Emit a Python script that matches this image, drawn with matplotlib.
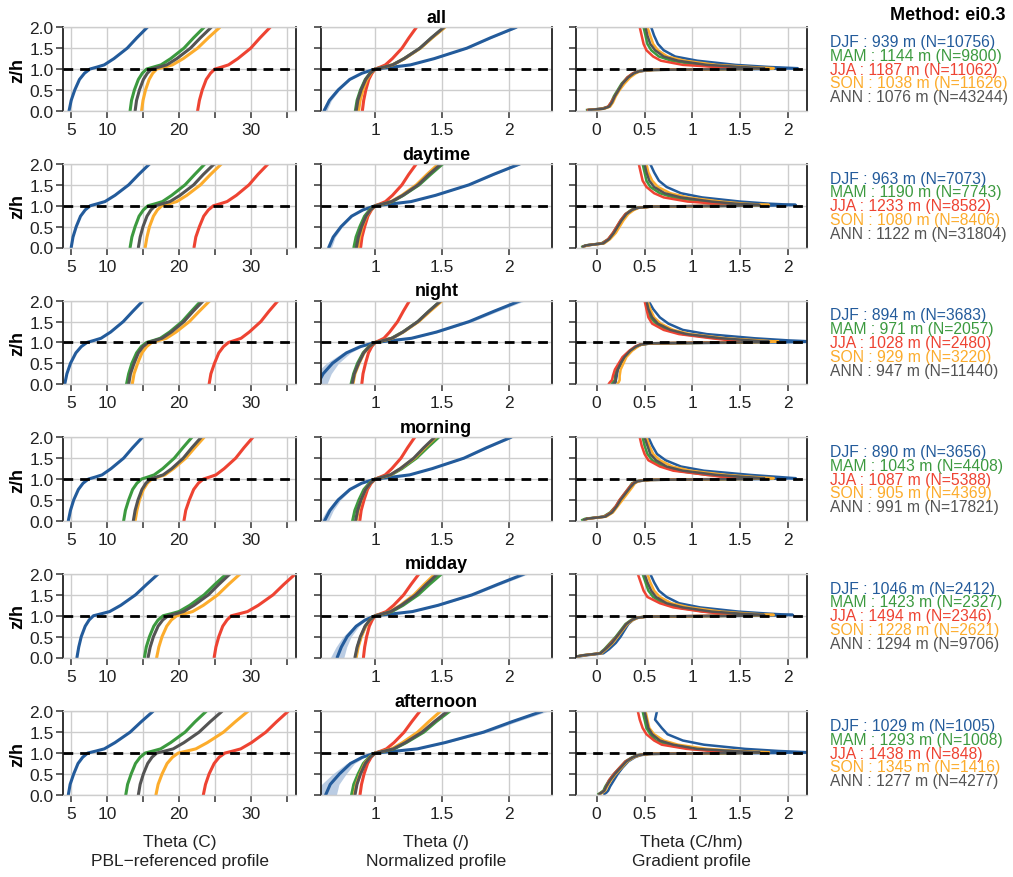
import numpy as np
import matplotlib
matplotlib.use("Agg")
import matplotlib.pyplot as plt

plt.rcParams['font.family'] = ['Liberation Sans', 'DejaVu Sans']

seasons = ['DJF', 'MAM', 'JJA', 'SON', 'ANN']
colors = ['#235b9b', '#3c9a3f', '#ee4332', '#fcac2c', '#545454']
periods = ['all', 'daytime', 'night', 'morning', 'midday', 'afternoon']

# PBL heights (m) and sample sizes, order DJF MAM JJA SON ANN
pbl_all = [939, 1144, 1187, 1038, 1076]
n_all = [10756, 9800, 11062, 11626, 43244]
pbl_day = [963, 1190, 1233, 1080, 1122]
n_day = [7073, 7743, 8582, 8406, 31804]
pbl_night = [894, 971, 1028, 929, 947]
n_night = [3683, 2057, 2480, 3220, 11440]
pbl_morning = [890, 1043, 1087, 905, 991]
n_morning = [3656, 4408, 5388, 4369, 17821]
pbl_midday = [1046, 1423, 1494, 1228, 1294]
n_midday = [2412, 2327, 2346, 2621, 9706]
pbl_afternoon = [1029, 1293, 1438, 1345, 1277]
n_afternoon = [1005, 1008, 848, 1416, 4277]

# z/h levels for the theta profiles
z = [0, 0.25, 0.5, 0.75, 0.9, 1.0, 1.05, 1.1, 1.25, 1.5, 1.75, 2.0]

# theta (C), one row per season
theta_all = [
    [4.7, 5.0, 5.5, 6.15, 6.85, 7.6, 8.65, 9.6, 10.95, 12.8, 14.15, 15.6],
    [13.2, 13.4, 13.8, 14.35, 14.9, 15.5, 16.5, 17.5, 18.85, 20.7, 22.05, 23.5],
    [22.6, 22.85, 23.25, 23.8, 24.4, 25.0, 26.0, 26.9, 28.2, 30.0, 31.3, 32.7],
    [14.8, 15.0, 15.35, 15.85, 16.35, 16.9, 18.05, 19.1, 20.6, 22.6, 24.1, 25.7],
    [13.9, 14.1, 14.5, 15.05, 15.6, 16.2, 17.3, 18.3, 19.7, 21.6, 23.0, 24.5],
]
theta_day = [
    [5.0, 5.25, 5.7, 6.3, 6.95, 7.65, 8.7, 9.7, 11.1, 13.0, 14.4, 15.9],
    [13.2, 13.45, 13.9, 14.45, 15.05, 15.7, 16.75, 17.7, 19.0, 20.85, 22.2, 23.6],
    [22.1, 22.35, 22.85, 23.45, 24.1, 24.8, 25.8, 26.7, 28.0, 29.75, 31.0, 32.4],
    [15.3, 15.55, 15.9, 16.45, 17.0, 17.6, 18.7, 19.7, 21.1, 23.0, 24.4, 25.9],
    [14.35, 14.6, 15.0, 15.55, 16.1, 16.7, 17.75, 18.75, 20.15, 22.05, 23.4, 24.9],
]
theta_night = [
    [4.1, 4.4, 4.9, 5.65, 6.4, 7.2, 8.2, 9.15, 10.5, 12.25, 13.6, 15.0],
    [12.7, 13.0, 13.45, 14.1, 14.75, 15.5, 16.5, 17.4, 18.7, 20.45, 21.75, 23.1],
    [24.2, 24.45, 24.95, 25.55, 26.2, 26.9, 27.8, 28.65, 29.8, 31.4, 32.55, 33.8],
    [13.5, 13.75, 14.25, 14.85, 15.5, 16.2, 17.25, 18.25, 19.6, 21.45, 22.85, 24.3],
    [13.0, 13.25, 13.75, 14.35, 15.0, 15.7, 16.7, 17.65, 18.95, 20.7, 22.0, 23.4],
]
theta_morning = [
    [4.6, 4.9, 5.35, 6.0, 6.65, 7.4, 8.4, 9.3, 10.55, 12.3, 13.55, 14.9],
    [12.3, 12.55, 13.0, 13.55, 14.15, 14.8, 15.7, 16.55, 17.75, 19.35, 20.55, 21.8],
    [20.7, 20.95, 21.45, 22.05, 22.7, 23.4, 24.3, 25.15, 26.3, 27.9, 29.05, 30.3],
    [13.9, 14.15, 14.5, 15.05, 15.6, 16.2, 17.15, 18.05, 19.25, 20.95, 22.2, 23.5],
    [13.65, 13.9, 14.3, 14.85, 15.4, 16.0, 16.9, 17.8, 19.0, 20.6, 21.8, 23.1],
]
theta_midday = [
    [5.8, 6.05, 6.4, 6.95, 7.5, 8.1, 9.25, 10.35, 11.9, 13.95, 15.5, 17.1],
    [15.2, 15.45, 15.9, 16.5, 17.1, 17.8, 18.95, 20.0, 21.5, 23.5, 25.0, 26.6],
    [24.9, 25.15, 25.55, 26.1, 26.7, 27.3, 28.45, 29.55, 31.05, 33.1, 34.6, 36.2],
    [16.9, 17.2, 17.65, 18.3, 18.95, 19.7, 20.85, 21.9, 23.4, 25.4, 26.9, 28.5],
    [15.7, 16.0, 16.45, 17.1, 17.75, 18.5, 19.6, 20.65, 22.1, 24.1, 25.55, 27.1],
]
theta_afternoon = [
    [4.6, 4.85, 5.35, 5.95, 6.6, 7.3, 8.5, 9.6, 11.1, 13.2, 14.75, 16.4],
    [12.6, 12.85, 13.35, 13.95, 14.6, 15.3, 16.4, 17.45, 18.85, 20.85, 22.25, 23.8],
    [23.4, 23.7, 24.2, 24.9, 25.6, 26.4, 27.55, 28.6, 30.1, 32.1, 33.6, 35.2],
    [16.8, 17.1, 17.65, 18.35, 19.1, 19.9, 21.15, 22.35, 23.95, 26.2, 27.85, 29.6],
    [14.35, 14.6, 15.05, 15.65, 16.25, 16.9, 18.1, 19.2, 20.7, 22.8, 24.35, 26.0],
]

# half width of the DJF uncertainty band on the normalized profile
band_all = [0.02, 0.015, 0.01, 0.007, 0.004, 0, 0.003, 0.005, 0.008, 0.01, 0.012, 0.015]
band_day = [0.02, 0.015, 0.01, 0.007, 0.004, 0, 0.003, 0.005, 0.008, 0.01, 0.012, 0.015]
band_night = [0.07, 0.06, 0.045, 0.03, 0.015, 0, 0.01, 0.015, 0.02, 0.025, 0.03, 0.035]
band_morning = [0.03, 0.025, 0.018, 0.01, 0.005, 0, 0.004, 0.007, 0.01, 0.012, 0.015, 0.018]
band_midday = [0.05, 0.04, 0.03, 0.02, 0.01, 0, 0.006, 0.01, 0.015, 0.02, 0.025, 0.03]
band_afternoon = [0.08, 0.065, 0.05, 0.03, 0.015, 0, 0.01, 0.015, 0.02, 0.03, 0.035, 0.04]

# z/h levels for the gradient profiles
gz = [0.02, 0.05, 0.1, 0.2, 0.35, 0.5, 0.65, 0.8, 0.9, 0.95, 0.98, 1.0,
      1.02, 1.05, 1.1, 1.2, 1.3, 1.45, 1.6, 1.8, 2.0]

# d theta / dz (C/hm), one row per season
grad_all = [
    [-0.08, 0.07, 0.13, 0.16, 0.19, 0.23, 0.27, 0.33, 0.39, 0.45, 0.6, 1.75, 2.1, 1.8, 1.45, 1.05, 0.82, 0.7, 0.64, 0.6, 0.57],
    [-0.1, 0.05, 0.12, 0.15, 0.18, 0.22, 0.26, 0.32, 0.38, 0.44, 0.58, 1.35, 1.6, 1.4, 1.05, 0.78, 0.65, 0.57, 0.53, 0.51, 0.49],
    [-0.09, 0.06, 0.12, 0.15, 0.19, 0.23, 0.27, 0.32, 0.38, 0.45, 0.58, 1.25, 1.5, 1.25, 0.9, 0.67, 0.59, 0.52, 0.49, 0.47, 0.45],
    [-0.07, 0.08, 0.14, 0.17, 0.2, 0.24, 0.29, 0.35, 0.41, 0.46, 0.6, 1.55, 1.85, 1.6, 1.25, 0.92, 0.74, 0.64, 0.59, 0.56, 0.53],
    [-0.08, 0.07, 0.13, 0.16, 0.19, 0.23, 0.27, 0.33, 0.39, 0.45, 0.59, 1.5, 1.75, 1.5, 1.15, 0.85, 0.7, 0.61, 0.56, 0.53, 0.51],
]
grad_day = [
    [-0.14, -0.11, 0.07, 0.13, 0.18, 0.22, 0.26, 0.31, 0.37, 0.43, 0.57, 1.75, 2.08, 1.8, 1.5, 1.1, 0.88, 0.73, 0.65, 0.6, 0.56],
    [-0.15, -0.12, 0.05, 0.12, 0.17, 0.21, 0.25, 0.3, 0.36, 0.42, 0.55, 1.35, 1.6, 1.35, 1.1, 0.8, 0.66, 0.56, 0.52, 0.5, 0.48],
    [-0.14, -0.11, 0.06, 0.12, 0.17, 0.21, 0.25, 0.3, 0.37, 0.43, 0.56, 1.25, 1.5, 1.25, 0.95, 0.7, 0.6, 0.52, 0.48, 0.46, 0.44],
    [-0.13, -0.1, 0.08, 0.14, 0.2, 0.24, 0.28, 0.33, 0.39, 0.44, 0.58, 1.5, 1.8, 1.55, 1.3, 0.95, 0.77, 0.64, 0.58, 0.54, 0.52],
    [-0.14, -0.11, 0.07, 0.13, 0.18, 0.22, 0.26, 0.31, 0.37, 0.43, 0.57, 1.45, 1.7, 1.45, 1.2, 0.88, 0.71, 0.6, 0.55, 0.52, 0.5],
]
grad_night = [
    [0.19, 0.2, 0.2, 0.21, 0.22, 0.26, 0.3, 0.36, 0.42, 0.47, 0.58, 1.9, 2.3, 2.0, 1.65, 1.15, 0.9, 0.75, 0.66, 0.59, 0.54],
    [0.16, 0.17, 0.19, 0.19, 0.21, 0.25, 0.29, 0.35, 0.41, 0.46, 0.56, 1.45, 1.7, 1.5, 1.25, 0.9, 0.74, 0.62, 0.56, 0.53, 0.51],
    [0.13, 0.14, 0.16, 0.17, 0.19, 0.23, 0.27, 0.34, 0.4, 0.45, 0.56, 1.3, 1.55, 1.4, 1.2, 0.86, 0.7, 0.58, 0.54, 0.52, 0.5],
    [0.22, 0.23, 0.24, 0.24, 0.25, 0.28, 0.31, 0.37, 0.43, 0.47, 0.58, 1.6, 1.9, 1.7, 1.35, 0.98, 0.8, 0.67, 0.6, 0.56, 0.53],
    [0.18, 0.19, 0.2, 0.2, 0.22, 0.25, 0.29, 0.35, 0.41, 0.46, 0.57, 1.5, 1.8, 1.6, 1.3, 0.94, 0.77, 0.64, 0.58, 0.54, 0.52],
]
grad_morning = [
    [-0.13, -0.1, 0.09, 0.16, 0.21, 0.25, 0.3, 0.35, 0.38, 0.43, 0.56, 1.75, 2.08, 1.9, 1.6, 1.12, 0.88, 0.72, 0.63, 0.58, 0.54],
    [-0.15, -0.12, 0.07, 0.14, 0.2, 0.24, 0.29, 0.34, 0.37, 0.42, 0.54, 1.4, 1.65, 1.45, 1.15, 0.84, 0.69, 0.58, 0.53, 0.5, 0.48],
    [-0.13, -0.1, 0.08, 0.15, 0.2, 0.24, 0.29, 0.34, 0.38, 0.43, 0.55, 1.25, 1.5, 1.35, 1.15, 0.8, 0.66, 0.54, 0.5, 0.47, 0.45],
    [-0.12, -0.09, 0.1, 0.17, 0.22, 0.27, 0.32, 0.37, 0.4, 0.44, 0.57, 1.55, 1.85, 1.65, 1.35, 0.98, 0.79, 0.66, 0.59, 0.55, 0.52],
    [-0.13, -0.1, 0.09, 0.16, 0.21, 0.25, 0.3, 0.35, 0.39, 0.43, 0.56, 1.5, 1.75, 1.55, 1.25, 0.9, 0.73, 0.62, 0.56, 0.53, 0.5],
]
grad_midday = [
    [-0.19, -0.12, 0.07, 0.13, 0.2, 0.25, 0.29, 0.33, 0.38, 0.43, 0.53, 1.75, 2.05, 1.8, 1.48, 1.08, 0.86, 0.73, 0.65, 0.6, 0.56],
    [-0.22, -0.16, 0.03, 0.08, 0.14, 0.2, 0.25, 0.3, 0.36, 0.41, 0.5, 1.4, 1.65, 1.4, 1.12, 0.84, 0.69, 0.59, 0.54, 0.51, 0.48],
    [-0.21, -0.15, 0.04, 0.09, 0.15, 0.21, 0.26, 0.31, 0.37, 0.42, 0.51, 1.25, 1.5, 1.3, 1.1, 0.8, 0.66, 0.53, 0.49, 0.46, 0.43],
    [-0.2, -0.14, 0.05, 0.1, 0.17, 0.22, 0.27, 0.32, 0.38, 0.43, 0.53, 1.55, 1.85, 1.6, 1.3, 0.97, 0.78, 0.66, 0.6, 0.56, 0.53],
    [-0.21, -0.15, 0.04, 0.09, 0.16, 0.21, 0.26, 0.31, 0.37, 0.42, 0.52, 1.5, 1.75, 1.5, 1.2, 0.9, 0.73, 0.62, 0.57, 0.53, 0.5],
]
grad_afternoon = [
    [0.08, 0.1, 0.12, 0.14, 0.18, 0.22, 0.27, 0.33, 0.4, 0.46, 0.57, 1.85, 2.2, 1.9, 1.55, 1.12, 0.9, 0.74, 0.68, 0.61, 0.63],
    [0.02, 0.04, 0.07, 0.09, 0.13, 0.18, 0.24, 0.3, 0.37, 0.43, 0.53, 1.35, 1.6, 1.3, 0.98, 0.74, 0.62, 0.56, 0.52, 0.5, 0.48],
    [0.03, 0.05, 0.08, 0.1, 0.13, 0.18, 0.24, 0.3, 0.38, 0.44, 0.54, 1.25, 1.5, 1.2, 0.94, 0.68, 0.6, 0.52, 0.48, 0.45, 0.43],
    [0.04, 0.06, 0.09, 0.11, 0.15, 0.2, 0.26, 0.32, 0.39, 0.45, 0.55, 1.5, 1.8, 1.5, 1.15, 0.85, 0.7, 0.6, 0.55, 0.53, 0.51],
    [0.03, 0.05, 0.08, 0.1, 0.14, 0.19, 0.25, 0.31, 0.38, 0.44, 0.54, 1.45, 1.7, 1.4, 1.05, 0.8, 0.66, 0.58, 0.54, 0.52, 0.5],
]

thetas = [theta_all, theta_day, theta_night, theta_morning, theta_midday, theta_afternoon]
grads = [grad_all, grad_day, grad_night, grad_morning, grad_midday, grad_afternoon]
bands = [band_all, band_day, band_night, band_morning, band_midday, band_afternoon]
pbls = [pbl_all, pbl_day, pbl_night, pbl_morning, pbl_midday, pbl_afternoon]
ns = [n_all, n_day, n_night, n_morning, n_midday, n_afternoon]

W, H = 1013, 878
fig = plt.figure(figsize=(W / 100, H / 100), dpi=100)

col_left = [63.3, 320.7, 576.0]
col_width = [232.7, 231.3, 231.3]
row_top = [28.3, 165.0, 301.7, 438.3, 575.0, 712.3]
ax_h = 83.5

xlims = [(3.9, 36.3), (0.593, 2.32), (-0.216, 2.2)]
xticks = [[5, 10, 15, 20, 25, 30, 35], [1, 1.5, 2], [0, 0.5, 1, 1.5, 2]]
xticklabels = [['5', '10', '', '20', '', '30', ''], ['1', '1.5', '2'],
               ['0', '0.5', '1', '1.5', '2']]
gridc = '#cdcdcd'
fs = 12.5

zarr = np.array(z)
i1 = z.index(1.0)

for r in range(6):
    top = row_top[r]
    axes = []
    for c in range(3):
        ax = fig.add_axes([col_left[c] / W, 1 - (top + ax_h) / H,
                           col_width[c] / W, ax_h / H])
        ax.set_xlim(*xlims[c])
        ax.set_ylim(0, 2)
        ax.set_xticks(xticks[c])
        ax.set_xticklabels(xticklabels[c])
        ax.set_yticks([0, 0.5, 1, 1.5, 2])
        if c == 0:
            ax.set_yticklabels(['0.0', '0.5', '1.0', '1.5', '2.0'])
        else:
            ax.set_yticklabels([])
        ax.grid(True, color=gridc, lw=1)
        ax.set_axisbelow(True)
        for s in ['top', 'bottom']:
            ax.spines[s].set_color(gridc)
            ax.spines[s].set_linewidth(1)
        for s in ['left', 'right']:
            ax.spines[s].set_color('#222222')
            ax.spines[s].set_linewidth(1.3)
        ax.tick_params(direction='out', length=5, width=1.1, color='#333333',
                       labelsize=fs, pad=2, labelcolor='#222222')
        ax.tick_params(axis='x', pad=3)
        axes.append(ax)

    th = thetas[r]
    for k in range(5):
        prof = np.array(th[k])
        axes[0].plot(prof, zarr, color=colors[k], lw=2.2, solid_capstyle='round')
        norm = prof / prof[i1]
        if k == 0:
            b = np.array(bands[r])
            axes[1].fill_betweenx(zarr, norm - b, norm + b, color='#a9c0dc',
                                  alpha=0.8, lw=0)
        axes[1].plot(norm, zarr, color=colors[k], lw=2.2, solid_capstyle='round')
        axes[2].plot(grads[r][k], gz, color=colors[k], lw=1.8)

    for ax in axes:
        ax.axhline(1.0, color='black', lw=2, ls=(0, (3.5, 2.5)), zorder=5)

    # row title and y label
    fig.text(436.3 / W, 1 - (top - 10) / H, periods[r], ha='center', va='center',
             fontsize=13, fontweight='bold')
    fig.text(18 / W, 1 - (top + ax_h / 2) / H, 'z/h', rotation=90, ha='center',
             va='center', fontsize=13, fontweight='bold')

    # season legend
    yc = top + ax_h / 2
    for k in range(5):
        txt = '%s : %d m (N=%d)' % (seasons[k], pbls[r][k], ns[r][k])
        fig.text(830 / W, 1 - (yc + (k - 2) * 13.8) / H, txt, color=colors[k],
                 ha='left', va='center', fontsize=11.3)

fig.text(1005 / W, 1 - 15 / H, 'Method: ei0.3', ha='right', va='center',
         fontsize=13, fontweight='bold')

bottom_labels = [('Theta (C)', 'PBL\u2212referenced profile'),
                 ('Theta (/)', 'Normalized profile'),
                 ('Theta (C/hm)', 'Gradient profile')]
for c in range(3):
    xc = (col_left[c] + col_width[c] / 2) / W
    fig.text(xc, 1 - 843 / H, bottom_labels[c][0], ha='center', va='center',
             fontsize=fs, color='#222222')
    fig.text(xc, 1 - 862 / H, bottom_labels[c][1], ha='center', va='center',
             fontsize=fs, color='#222222')

fig.savefig('out.png', dpi=100)
